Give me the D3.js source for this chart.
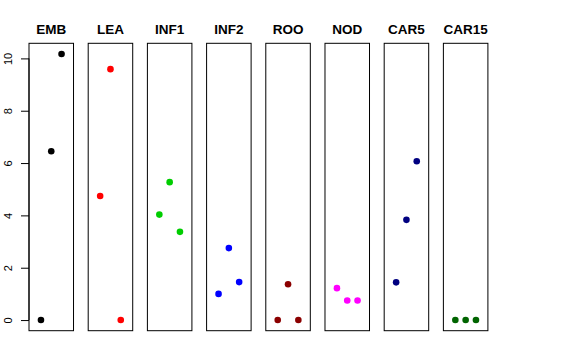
<!DOCTYPE html>
<html><head><meta charset="utf-8">
<script src="https://cdn.jsdelivr.net/npm/d3@7"></script>
<style>body{margin:0;background:#fff}svg{display:block}</style>
</head><body>
<svg id="c" width="576" height="360"></svg>
<script>
const categories = ["EMB","LEA","INF1","INF2","ROO","NOD","CAR5","CAR15"];
const colors = ["#000000","#FF0000","#00CD00","#0000FF","#8B0000","#FF00FF","#000080","#006400"];
const values = [
  [0, 6.45, 10.17],
  [4.74, 9.59, 0],
  [4.03, 5.27, 3.37],
  [1.0, 2.75, 1.45],
  [0, 1.37, 0],
  [1.22, 0.75, 0.75],
  [1.44, 3.83, 6.07],
  [0, 0, 0]
];
const yTicks = [0, 2, 4, 6, 8, 10];

const svg = d3.select("#c");
const font = "Liberation Sans, Arial, Helvetica, sans-serif";
const y = d3.scaleLinear().domain([-0.407, 10.577]).range([330.7, 43.3]);
const xb = d3.scaleBand().domain(categories).range([29, 487.9]).paddingInner(0.248).paddingOuter(0);
const bw = xb.bandwidth();
const xi = d3.scaleLinear().domain([-0.16, 4.16]).range([0, bw]);

categories.forEach((cat, i) => {
  const g = svg.append("g").attr("transform", `translate(${xb(cat)},0)`);
  g.append("rect").attr("x", 0).attr("y", y.range()[1]).attr("width", bw)
    .attr("height", y.range()[0] - y.range()[1])
    .attr("fill", "none").attr("stroke", "#000").attr("stroke-width", 1);
  g.append("text").attr("x", bw / 2).attr("y", 34).attr("text-anchor", "middle")
    .attr("font-family", font).attr("font-weight", "bold").attr("font-size", 13.5)
    .text(cat);
  g.selectAll("circle").data(values[i]).join("circle")
    .attr("cx", (d, j) => xi(j + 1)).attr("cy", d => y(d)).attr("r", 3.3)
    .attr("fill", colors[i]);
});

const ax = svg.append("g").attr("transform", `translate(${xb(categories[0])},0)`)
  .call(d3.axisLeft(y).tickValues(yTicks).tickSize(8).tickPadding(0).tickFormat(d3.format("d")));
ax.select(".domain").attr("d", `M0,${y(0)}V${y(10)}`).attr("stroke", "#000");
ax.selectAll(".tick line").attr("stroke", "#000");
ax.selectAll(".tick text").attr("font-family", font).attr("font-size", 11).attr("fill", "#000")
  .attr("x", null).attr("dy", null).attr("text-anchor", "middle")
  .attr("transform", "translate(-21,0) rotate(-90)").attr("y", 0).attr("dy", "0.35em");
</script>
</body></html>
